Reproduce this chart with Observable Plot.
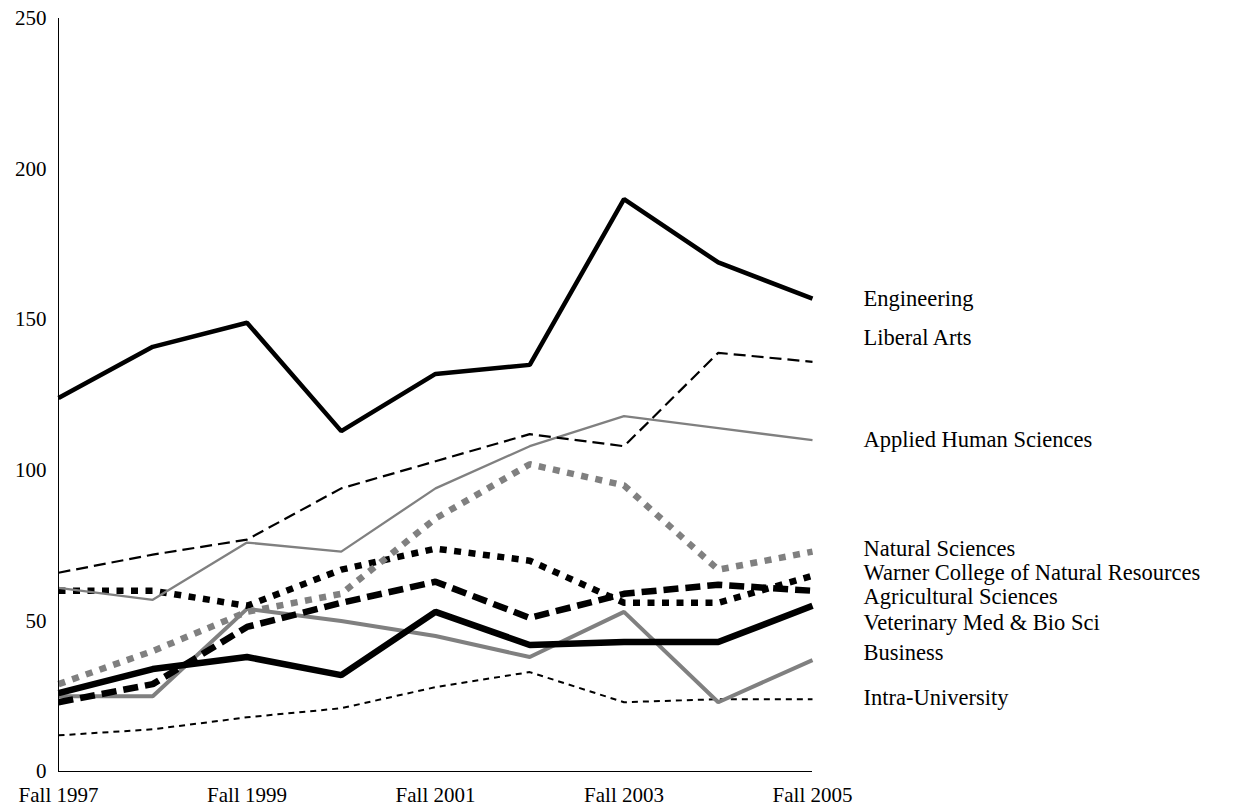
<!DOCTYPE html>
<html>
<head>
<meta charset="utf-8">
<script src="https://cdn.jsdelivr.net/npm/d3@7"></script>
<script src="https://cdn.jsdelivr.net/npm/@observablehq/plot@0.6"></script>
<style>
  html, body { margin: 0; padding: 0; background: #fff; }
  #chart { width: 1233px; height: 811px; }
</style>
</head>
<body>
<div id="chart"></div>
<script>
// ---- data ----
const years = [1997, 1998, 1999, 2000, 2001, 2002, 2003, 2004, 2005];
const tickYears = [1997, 1999, 2001, 2003, 2005];
const yTicks = [0, 50, 100, 150, 200, 250];

const colleges = [
  "Engineering",
  "Liberal Arts",
  "Applied Human Sciences",
  "Natural Sciences",
  "Warner College of Natural Resources",
  "Agricultural Sciences",
  "Veterinary Med & Bio Sci",
  "Business",
  "Intra-University"
];

const engineering    = [124, 141, 149, 113, 132, 135, 190, 169, 157];
const liberalArts    = [66, 72, 77, 94, 103, 112, 108, 139, 136];
const appliedHuman   = [61, 57, 76, 73, 94, 108, 118, 114, 110];
const naturalSci     = [29, 40, 53, 59, 84, 102, 95, 67, 73];
const warner         = [60, 60, 55, 67, 74, 70, 56, 56, 65];
const agricultural   = [23, 29, 48, 56, 63, 51, 59, 62, 60];
const veterinary     = [26, 34, 38, 32, 53, 42, 43, 43, 55];
const business       = [25, 25, 54, 50, 45, 38, 53, 23, 37];
const intraUniv      = [12, 14, 18, 21, 28, 33, 23, 24, 24];

// value at which each right-hand label sits
const labelValues = [157, 144, 110, 74, 66, 58, 49.5, 39.5, 24.5];

const seriesValues = [engineering, liberalArts, appliedHuman, naturalSci, warner,
                      agricultural, veterinary, business, intraUniv];

// ---- styles (not data) ----
const GRAY = "#808080";
const styles = {
  "Engineering":                         {stroke: "#000", strokeWidth: 4.5},
  "Liberal Arts":                        {stroke: "#000", strokeWidth: 2.2, strokeDasharray: "12,6"},
  "Applied Human Sciences":              {stroke: GRAY,  strokeWidth: 2.3},
  "Natural Sciences":                    {stroke: GRAY,  strokeWidth: 6.5, strokeDasharray: "7,7.5"},
  "Warner College of Natural Resources": {stroke: "#000", strokeWidth: 6.5, strokeDasharray: "7,7.5"},
  "Agricultural Sciences":               {stroke: "#000", strokeWidth: 6.5, strokeDasharray: "15,7"},
  "Veterinary Med & Bio Sci":            {stroke: "#000", strokeWidth: 6.5},
  "Business":                            {stroke: GRAY,  strokeWidth: 4},
  "Intra-University":                    {stroke: "#000", strokeWidth: 2, strokeDasharray: "6,5"}
};

// draw order (bottom first)
const drawOrder = [
  "Intra-University", "Business", "Veterinary Med & Bio Sci", "Agricultural Sciences",
  "Warner College of Natural Resources", "Natural Sciences", "Applied Human Sciences",
  "Liberal Arts", "Engineering"
];

const rows = colleges.map((name, i) => years.map((yr, j) => ({name, year: yr, value: seriesValues[i][j]})));
const labels = colleges.map((name, i) => ({name, year: years[years.length - 1], value: labelValues[i]}));

const lineMarks = drawOrder.map(name => {
  const i = colleges.indexOf(name);
  return Plot.line(rows[i], {x: "year", y: "value", strokeLinecap: "butt", strokeLinejoin: "miter", ...styles[name]});
});

const chart = Plot.plot({
  width: 1233,
  height: 811,
  marginLeft: 58,
  marginRight: 421,
  marginTop: 18,
  marginBottom: 40,
  style: {fontFamily: "'Liberation Serif', 'Times New Roman', serif", fontSize: "21px", background: "#fff", color: "#000"},
  x: {domain: [1997, 2005], type: "linear"},
  y: {domain: [0, 250]},
  marks: [
    Plot.axisY({ticks: yTicks, tickSize: 0, tickPadding: 12, fontSize: 21, label: null, tickFormat: d => String(d)}),
    Plot.axisX({ticks: tickYears, tickSize: 0, tickPadding: 16, fontSize: 21, label: null, tickFormat: d => "Fall " + d}),
    ...lineMarks,
    Plot.ruleX([1997], {y1: 0, y2: 250, stroke: "#000", strokeWidth: 1}),
    Plot.ruleY([0], {stroke: "#000", strokeWidth: 1}),
    Plot.text(labels, {x: "year", y: "value", text: "name", dx: 51, textAnchor: "start", fontSize: 22.5, fill: "#000"})
  ]
});
document.getElementById("chart").appendChild(chart);
</script>
</body>
</html>
